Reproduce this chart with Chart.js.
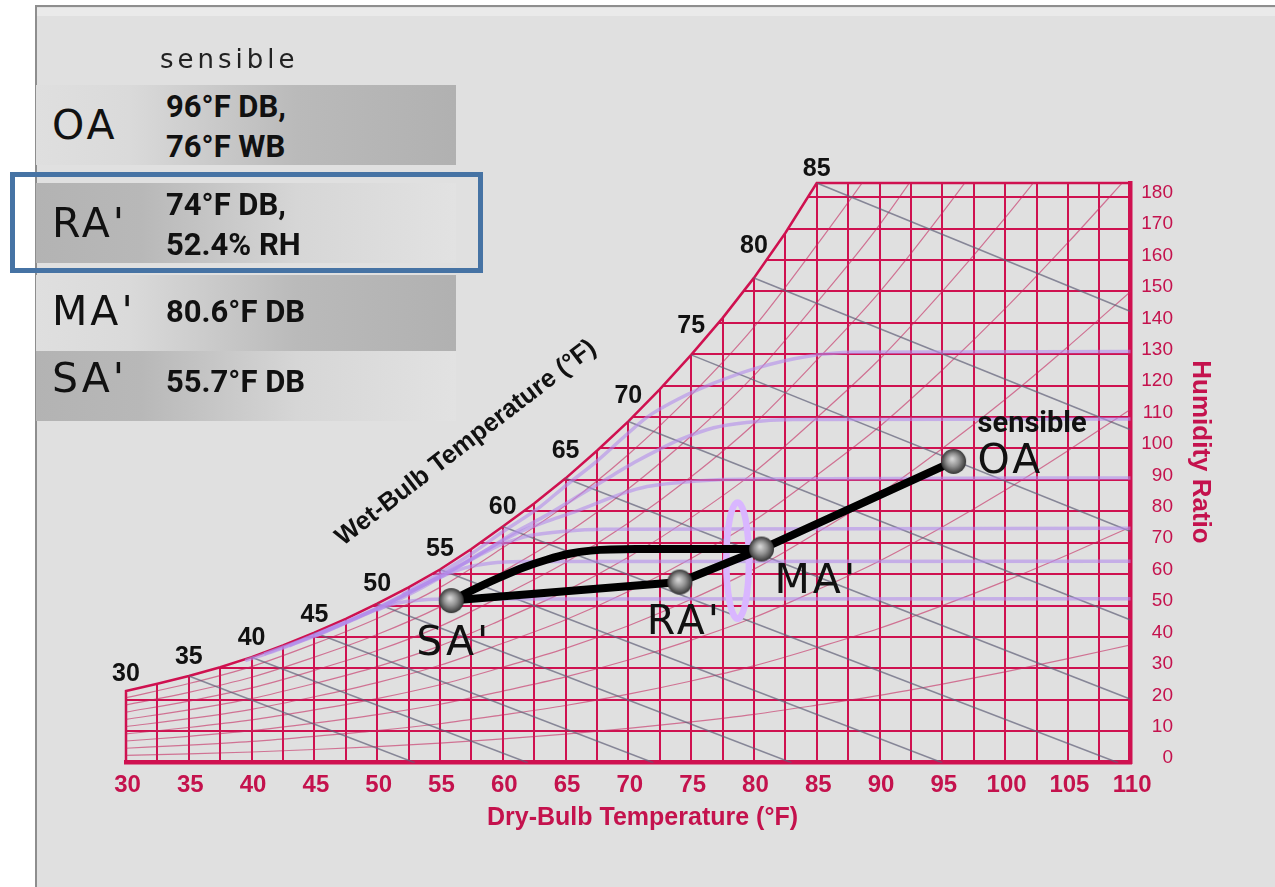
<!DOCTYPE html>
<html>
<head>
<meta charset="utf-8">
<title>Psychrometric chart – sensible cooling</title>
<script src="https://cdn.jsdelivr.net/npm/chart.js@4.4.1/dist/chart.umd.min.js"></script>
<style>
  html, body { margin: 0; padding: 0; background: #fff; width: 1275px; height: 887px; overflow: hidden; }
  #frame { position: absolute; left: 35px; top: 5px; width: 1240px; height: 882px; background: #e0e0e0;
           border-top: 2px solid #8e8e8e; border-left: 2px solid #8e8e8e; box-sizing: border-box; }
  #frame .band { position: absolute; left: 0; right: 0; top: 1px; height: 8px; background: #eaeaea; }
  #chart { position: absolute; left: 0; top: 0; }
  .row { position: absolute; left: 36px; width: 420px; }
  .light-dark { background: linear-gradient(to right, #dfdfdf 0%, #dadada 22%, #bababa 62%, #b1b1b1 100%); }
  .dark-light { background: linear-gradient(to right, #b3b3b3 0%, #b8b8b8 25%, #d6d6d6 62%, #e2e2e2 100%); }
  .tag { position: absolute; left: 52px; font: 41px "DejaVu Sans"; letter-spacing: 3px; line-height: 41px; color: #111; white-space: nowrap; }
  .val { position: absolute; left: 166px; font: bold 31px Roboto; line-height: 31px; color: #111; white-space: nowrap; }
  #hdr { position: absolute; left: 160px; top: 46px; font: 26px "DejaVu Sans"; letter-spacing: 4px; line-height: 26px; color: #222; }
  #sel { position: absolute; left: 10px; top: 172px; width: 473px; height: 101px; border: 5px solid #4673a4; box-sizing: border-box; }
</style>
</head>
<body>
<div id="frame"><div class="band"></div></div>

<canvas id="chart" width="1275" height="887"></canvas>

<div id="hdr">sensible</div>
<div class="row light-dark" style="top:85px;height:80px"></div>
<div class="row dark-light" style="top:183px;height:80px"></div>
<div class="row light-dark" style="top:275px;height:76px"></div>
<div class="row dark-light" style="top:351px;height:70px"></div>

<div class="tag" style="top:105px">OA</div>
<div class="val" style="top:91px">96°F DB,</div>
<div class="val" style="top:131px">76°F WB</div>

<div class="tag" style="top:203px">RA'</div>
<div class="val" style="top:189px">74°F DB,</div>
<div class="val" style="top:229px">52.4% RH</div>

<div class="tag" style="top:291px">MA'</div>
<div class="val" style="top:296px">80.6°F DB</div>

<div class="tag" style="top:358px">SA'</div>
<div class="val" style="top:366px">55.7°F DB</div>

<div id="sel"></div>

<script>
const BG = "#e0e0e0";
const GRID = "#cf1150";
const INK = "#c4124d";

// axes
const xTickLabels = [30, 35, 40, 45, 50, 55, 60, 65, 70, 75, 80, 85, 90, 95, 100, 105, 110];
const yTickLabels = [0, 10, 20, 30, 40, 50, 60, 70, 80, 90, 100, 110, 120, 130, 140, 150, 160, 170, 180];
const dbMin = 30;
const dbMax = 110;
const wMax = 184.5;

// saturation curve (dry-bulb °F, grains/lb)
const satT = [30, 32.5, 35, 37.5, 40, 42.5, 45, 47.5, 50, 52.5, 55, 57.5, 60, 62.5, 65, 67.5, 70, 72.5, 75, 77.5, 80, 82.5, 85];
const satW = [22.8, 25.1, 27.6, 30.4, 33.6, 37.3, 41.4, 45.8, 50.6, 55.8, 61.5, 68.0, 75.2, 82.5, 90.5, 99.3, 108.6, 118.8, 129.8, 141.5, 154.3, 168.6, 184.5];

// relative humidity curves, built on the 10% curve
const rhLevels = [10, 20, 30, 40, 50, 60, 70, 80, 90];
const rh10T = [30, 35, 40, 45, 50, 55, 60, 65, 70, 75, 80, 85, 90, 95, 100, 105, 110];
const rh10W = [2.3, 2.8, 3.4, 4.2, 5.1, 6.2, 7.6, 9.1, 10.9, 13.0, 15.4, 18.3, 21.4, 25.0, 28.9, 33.1, 37.5];

// wet-bulb lines: start on saturation, end on bottom or right edge
const wbLines = [35, 40, 45, 50, 55, 60, 65, 70, 75, 80, 85];
const wbEndT = [53, 62, 72, 83, 95, 109, 110, 110, 110, 110, 110];
const wbEndW = [0, 0, 0, 0, 0, 0, 20.2, 45.4, 73.6, 106, 143.6];
const wbLabels = [30, 35, 40, 45, 50, 55, 60, 65, 70, 75, 80, 85];

// lavender coil curves [dry-bulb, grains]
const dew52 = [[39.5, 32.5], [42, 35.8], [44.5, 39.7], [47, 43.8], [49.5, 48], [51.5, 50.7], [53.5, 51.8], [56, 52.1], [110, 52.2]];
const dew64 = [[41, 34.6], [44, 39], [47, 44], [50, 49.3], [52.5, 54.3], [55, 59], [57, 62], [59, 63.5], [61.5, 64], [110, 64.1]];
const dew75 = [[43, 37.2], [46, 41.9], [49, 47.1], [52, 53], [55, 59.3], [57.5, 64.6], [59.5, 68.8], [61, 71], [62.2, 72.3], [64.8, 73.6], [68, 74.3], [110, 74.6]];
const dew90 = [[45, 40.2], [48, 45.5], [51, 51], [54, 57.2], [57, 63.8], [59.5, 69.5], [61.4, 73.5], [63.5, 76.8], [65.4, 79.4], [67.5, 82.6], [69.6, 85.8], [71.5, 87.9], [74.1, 89.2], [76.8, 90], [80, 90.3], [110, 90.6]];
const dew109 = [[50, 48.5], [53, 54.5], [56, 61.2], [59, 68.4], [61, 73.4], [63.5, 78.8], [65.4, 83.4], [67, 87.3], [68.8, 91.6], [70.5, 95.6], [72.5, 99.8], [74.1, 102.8], [76.8, 106.6], [79.4, 108.3], [83.1, 109.2], [110, 109.4]];
const dew131 = [[52, 53.5], [55, 60.3], [57.5, 66.5], [60, 73.5], [63, 81.5], [64.8, 87.5], [67.5, 96], [69.6, 103.5], [71.5, 110], [74.1, 116], [76.8, 120.8], [80.2, 125.6], [84.2, 129.3], [88, 130.6], [110, 130.9]];

// air states
const stateNames = ["SA'", "RA'", "MA'", "OA"];
const stateT = [55.9, 74.1, 80.6, 95.9];
const stateW = [51.6, 57.5, 68.0, 95.9];

// curved path SA' -> MA'
const coilT = [55.9, 58.2, 59.9, 61.7, 63.5, 65.3, 67.0, 70.6, 80.6];
const coilW = [51.6, 56.1, 59.2, 62.2, 64.6, 66.5, 67.5, 68.0, 68.0];

// highlighted ellipse near MA'
const ellipseT = 78.7;
const ellipseW = 64.3;
const ellipseHalfT = 0.9;
const ellipseHalfW = 18.5;

// text placement (pixels)
const wbLabelDy = [-17, -18.5, -19.4, -17.4, -19.8, -20, -19, -27.5, -25.7, -28.4, -31.5, -13.4];
const stateLabelOffset = { "SA'": [-35, 54], "RA'": [-33, 52], "MA'": [13, 44], "OA": [24, 12] };

const pts = (ts, ws) => ts.map((t, i) => ({ x: t, y: ws[i] }));
const pairs = (arr) => arr.map((p) => ({ x: p[0], y: p[1] }));

function sphere() {
  const c = document.createElement("canvas");
  c.width = 27;
  c.height = 27;
  const g = c.getContext("2d");
  const grad = g.createRadialGradient(12, 11, 1, 13.5, 13.5, 13);
  grad.addColorStop(0, "#d2d2d2");
  grad.addColorStop(0.45, "#929292");
  grad.addColorStop(0.85, "#4a4a4a");
  grad.addColorStop(1, "#262626");
  g.fillStyle = grad;
  g.beginPath();
  g.arc(13.5, 13.5, 12.5, 0, Math.PI * 2);
  g.fill();
  return c;
}

const datasets = [];

// chart outline: left edge, saturation curve, top edge (area above it painted as background)
datasets.push({
  label: "saturation",
  data: [{ x: dbMin, y: 0 }].concat(pts(satT, satW), [{ x: dbMax, y: wMax }]),
  borderColor: GRID,
  borderWidth: 2.5,
  backgroundColor: BG,
  fill: "end",
  pointRadius: 0,
  tension: 0,
  clip: 8,
  order: 20,
});

rhLevels.forEach((lv) => {
  datasets.push({
    label: "rh" + lv,
    data: rh10T.map((t, i) => ({ x: t, y: rh10W[i] * lv / 10 })),
    borderColor: "rgba(196,40,95,0.6)",
    borderWidth: 1.2,
    pointRadius: 0,
    cubicInterpolationMode: "monotone",
    order: 15,
  });
});

wbLines.forEach((wb, i) => {
  datasets.push({
    label: "wb" + wb,
    data: [{ x: wb, y: satW[satT.indexOf(wb)] }, { x: wbEndT[i], y: wbEndW[i] }],
    borderColor: "rgba(95,95,120,0.7)",
    borderWidth: 1.6,
    pointRadius: 0,
    order: 14,
  });
});

[dew52, dew64, dew75, dew90, dew109, dew131].forEach((d, i) => {
  datasets.push({
    label: "coil" + i,
    data: pairs(d),
    borderColor: "rgba(178,140,235,0.6)",
    borderWidth: 3.5,
    pointRadius: 0,
    cubicInterpolationMode: "monotone",
    order: 12,
  });
});

datasets.push({
  label: "SA-MA",
  data: pts(coilT, coilW),
  borderColor: "#000",
  borderWidth: 8,
  pointRadius: 0,
  cubicInterpolationMode: "monotone",
  borderCapStyle: "round",
  order: 3,
});

datasets.push({
  label: "states",
  data: pts(stateT, stateW),
  borderColor: "#000",
  borderWidth: 8,
  borderJoinStyle: "round",
  pointStyle: sphere(),
  pointRadius: 12,
  order: 1,
});

const decor = {
  id: "decor",
  beforeDatasetDraw(chart, args) {
    if (chart.data.datasets[args.index].label !== "SA-MA") return;
    const { ctx, scales: { x, y } } = chart;
    const cx = x.getPixelForValue(ellipseT);
    const cy = y.getPixelForValue(ellipseW);
    const rx = x.getPixelForValue(ellipseT + ellipseHalfT) - cx;
    const ry = cy - y.getPixelForValue(ellipseW + ellipseHalfW);
    ctx.save();
    ctx.strokeStyle = "#d9b6ff";
    ctx.lineWidth = 6.5;
    ctx.beginPath();
    ctx.ellipse(cx, cy, rx, ry, 0, 0, Math.PI * 2);
    ctx.stroke();
    ctx.restore();
  },
  afterDatasetsDraw(chart) {
    const { ctx, scales: { x, y } } = chart;
    ctx.save();

    // wet-bulb numbers on the saturation curve
    ctx.fillStyle = "#111";
    ctx.font = "bold 25px 'Liberation Sans'";
    ctx.textAlign = "center";
    ctx.textBaseline = "middle";
    wbLabels.forEach((wb, i) => {
      const px = x.getPixelForValue(wb);
      const py = y.getPixelForValue(satW[satT.indexOf(wb)]) + wbLabelDy[i];
      ctx.fillText(String(wb), px, py);
    });

    ctx.save();
    ctx.translate(466, 443);
    ctx.rotate(-37.5 * Math.PI / 180);
    ctx.font = "bold 25.5px 'Liberation Sans'";
    ctx.fillText("Wet-Bulb Temperature (°F)", 0, 0);
    ctx.restore();

    // axis titles
    ctx.fillStyle = INK;
    ctx.font = "bold 25px 'Liberation Sans'";
    ctx.textBaseline = "alphabetic";
    ctx.fillText("Dry-Bulb Temperature (°F)", 642.5, 825);
    ctx.save();
    ctx.translate(1200, 452);
    ctx.rotate(Math.PI / 2);
    ctx.textBaseline = "middle";
    ctx.font = "bold 26px 'Liberation Sans'";
    ctx.fillText("Humidity Ratio", 0, 0);
    ctx.restore();

    // state labels
    ctx.fillStyle = "#111";
    ctx.textAlign = "left";
    ctx.textBaseline = "alphabetic";
    ctx.font = "41px 'DejaVu Sans'";
    ctx.letterSpacing = "3px";
    stateNames.forEach((name, i) => {
      const px = x.getPixelForValue(stateT[i]);
      const py = y.getPixelForValue(stateW[i]);
      const off = stateLabelOffset[name];
      ctx.fillText(name, px + off[0], py + off[1]);
    });
    ctx.letterSpacing = "0px";
    ctx.font = "bold 29px Roboto";
    ctx.fillText("sensible", x.getPixelForValue(stateT[3]) + 24, y.getPixelForValue(stateW[3]) - 29);

    ctx.restore();
  },
};

new Chart(document.getElementById("chart"), {
  type: "line",
  data: { datasets },
  plugins: [decor],
  options: {
    responsive: false,
    devicePixelRatio: 1,
    animation: false,
    events: [],
    layout: { padding: { left: 126, top: 183, right: 102, bottom: 84.3 } },
    plugins: { legend: { display: false }, tooltip: { enabled: false } },
    scales: {
      x: {
        type: "linear",
        min: dbMin,
        max: dbMax,
        afterFit: (s) => { s.height = 40; },
        grid: {
          color: (c) => (c.tick && c.tick.value === dbMin ? "rgba(0,0,0,0)" : GRID),
          lineWidth: 2,
          drawTicks: false,
        },
        border: { color: GRID, width: 4.5 },
        ticks: {
          stepSize: 2.5,
          autoSkip: false,
          maxRotation: 0,
          padding: 8,
          labelOffset: 1.5,
          color: INK,
          font: { family: "Liberation Sans", size: 24, weight: "bold" },
          callback: (v) => (xTickLabels.includes(v) ? String(v) : ""),
        },
      },
      y: {
        type: "linear",
        position: "right",
        min: 0,
        max: wMax,
        afterFit: (s) => { s.width = 42.3; },
        grid: { color: GRID, lineWidth: 2, drawTicks: false },
        border: { color: GRID, width: 4.5 },
        ticks: {
          stepSize: 10,
          includeBounds: false,
          padding: 10,
          labelOffset: -4.5,
          crossAlign: "far",
          color: INK,
          font: { family: "Liberation Sans", size: 19 },
          callback: (v) => (yTickLabels.includes(v) ? String(v) : ""),
        },
      },
    },
  },
});
</script>
</body>
</html>
